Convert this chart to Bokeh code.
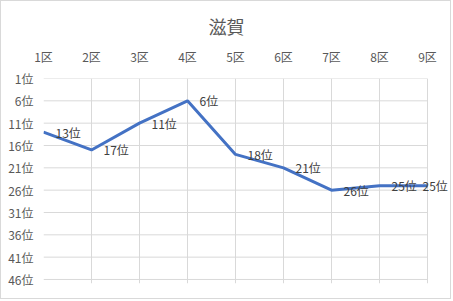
from bokeh.plotting import figure
from bokeh.models import Range1d, FixedTicker, ColumnDataSource, Label
from bokeh.embed import file_html
from bokeh.resources import INLINE

title_text = "滋賀"
districts = ["1区", "2区", "3区", "4区", "5区", "6区", "7区", "8区", "9区"]
ranks = [13, 17, 11, 6, 18, 21, 26, 25, 25]
y_ticks = [1, 6, 11, 16, 21, 26, 31, 36, 41, 46]
y_tick_labels = ["1位", "6位", "11位", "16位", "21位", "26位", "31位", "36位", "41位", "46位"]

FONT = "Noto Sans CJK JP"
GRID = "#d9d9d9"
TXT = "#595959"

x_pos = list(range(1, len(districts) + 1))
src = ColumnDataSource(dict(x=x_pos, y=ranks))

# frame spans to the right edge so the last label is not clipped;
# horizontal grid lines are drawn only across the categories
p = figure(width=451, height=299, output_backend="svg", toolbar_location=None,
           x_range=Range1d(1, 1 + 409 / 48), y_range=Range1d(46.9, 1), x_axis_location="above",
           min_border_left=42, min_border_right=0, min_border_top=77, min_border_bottom=17,
           styles={"border": "1px solid #d9d9d9"})

p.title.text = title_text
p.title.align = "left"
p.title.text_font = FONT
p.title.text_font_size = "18px"
p.title.text_font_style = "normal"
p.title.text_color = TXT
p.title.offset = 165
p.title.standoff = 12

p.outline_line_color = None
p.background_fill_color = "white"
p.border_fill_color = "white"

xa = p.xaxis[0]
xa.ticker = FixedTicker(ticks=x_pos)
xa.major_label_overrides = {i: d for i, d in zip(x_pos, districts)}
ya = p.yaxis[0]
ya.ticker = FixedTicker(ticks=y_ticks)
ya.major_label_overrides = {t: l for t, l in zip(y_ticks, y_tick_labels)}
for ax in (xa, ya):
    ax.axis_line_color = None
    ax.major_tick_line_color = None
    ax.minor_tick_line_color = None
    ax.major_tick_out = 0
    ax.major_tick_in = 0
    ax.major_label_text_font = FONT
    ax.major_label_text_font_size = "12px"
    ax.major_label_text_color = TXT
xa.major_label_standoff = 14
ya.major_label_standoff = 10

p.xgrid.grid_line_color = GRID
p.xgrid.ticker = FixedTicker(ticks=x_pos)
p.ygrid.grid_line_color = None
p.segment(x0=[x_pos[0]] * len(y_ticks), x1=[x_pos[-1]] * len(y_ticks),
          y0=y_ticks, y1=y_ticks, line_color=GRID, line_width=1)

p.line("x", "y", source=src, line_color="#4472C4", line_width=3)

for i, (xv, r) in enumerate(zip(x_pos, ranks)):
    off = -5 if i == len(ranks) - 1 else 12
    p.add_layout(Label(x=xv, y=r, text=f"{r}位", x_offset=off,
                       text_align="left", text_baseline="middle",
                       text_font=FONT, text_font_size="12px", text_color="#404040"))

open("out.html", "w").write(file_html(p, INLINE))
